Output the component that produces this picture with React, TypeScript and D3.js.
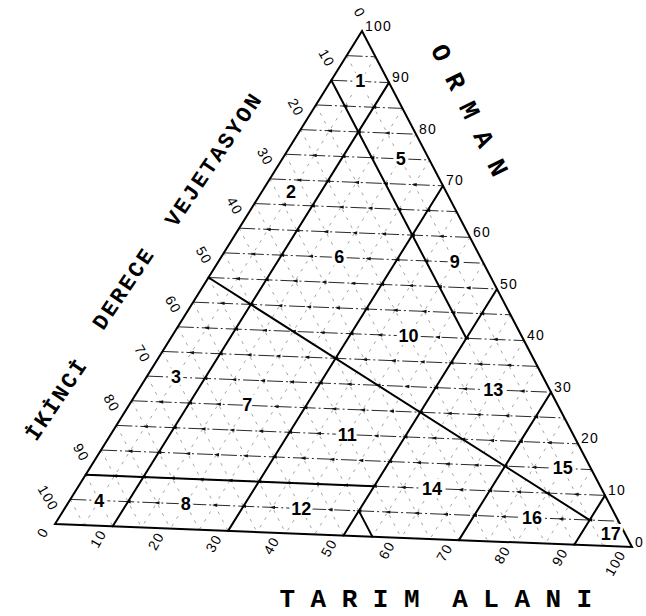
import React from "react";
import * as d3 from "d3";

const WIDTH = 646;
const HEIGHT = 616;

// Percent ticks along each side of the triangle
const sideTicks = d3.range(0, 101, 10);
// Fine grid spacing in percent
const gridValues = d3.range(5, 100, 5);

// Class boundaries as [TARIM, ORMAN] endpoints (VEJETASYON = 100 - TARIM - ORMAN)
const boundaryStart: [number, number][] = [
  [10, 90], [30, 70], [50, 50], [70, 30], [90, 10],
  [0, 90], [0, 10], [0, 50], [50, 5],
];
const boundaryEnd: [number, number][] = [
  [10, 0], [30, 0], [50, 0], [70, 0], [90, 0],
  [50, 40], [50, 10], [90, 5], [55, 0],
];

// Class numbers and where they sit, in percent
const classNames = ["1", "2", "3", "4", "5", "6", "7", "8", "9", "10", "11", "12", "13", "14", "15", "16", "17"];
const classTarim = [5, 5, 5, 5, 20, 20, 20, 20, 40, 40, 40, 40, 60, 60, 80, 80, 95];
const classOrman = [90, 67.5, 30, 5, 75, 55, 25, 5, 55, 40, 20, 5, 30, 10, 15, 5, 2.5];

// Axis titles
const titleOrman = "ORMAN";
const titleTarim = ["TARIM", "ALANI"];
const titleVejetasyon = ["İKİNCİ", "DERECE", "VEJETASYON"];

// Triangle corners on the page: TARIM = 100 (right), VEJETASYON = 100 (left), ORMAN = 100 (top)
const cornerTarim: [number, number] = [632, 547];
const cornerVej: [number, number] = [55, 524];
const cornerOrman: [number, number] = [362, 31];

const frac = d3.scaleLinear().domain([0, 100]).range([0, 1]);

function project(t: number, o: number): [number, number] {
  const v = 100 - t - o;
  const a = frac(t), b = frac(v), c = frac(o);
  return [
    a * cornerTarim[0] + b * cornerVej[0] + c * cornerOrman[0],
    a * cornerTarim[1] + b * cornerVej[1] + c * cornerOrman[1],
  ];
}

const line = d3.line<[number, number]>();
const baseAngle =
  (Math.atan2(cornerTarim[1] - cornerVej[1], cornerTarim[0] - cornerVej[0]) * 180) / Math.PI;

const sansFont = "'Liberation Sans', Arial, Helvetica, sans-serif";
const monoFont = "'Liberation Mono', 'Courier New', monospace";

export default function App() {
  // fine grid: constant ORMAN (horizontal), constant VEJETASYON, constant TARIM
  const horiz = gridValues.map((o) => line([project(0, o), project(100 - o, o)])!);
  const vejLines = gridValues.map((v) => line([project(0, 100 - v), project(100 - v, 0)])!);
  const tarLines = gridValues.map((t) => line([project(t, 100 - t), project(t, 0)])!);

  const arrows: [number, number][] = [];
  gridValues.forEach((o) => {
    d3.range(5, 100 - o, 5).forEach((t) => arrows.push(project(t, o)));
  });

  const border = line([cornerVej, cornerTarim, cornerOrman])! + "Z";
  const vejCenters: [number, number][] = [[58, 400], [125, 289], [215, 160]];

  return (
    <svg width={WIDTH} height={HEIGHT} style={{ display: "block", position: "absolute", left: 0, top: 0 }}>
      <rect width={WIDTH} height={HEIGHT} fill="#fff" />
      <g fill="none" stroke="#666" strokeWidth={0.6} strokeDasharray="3 6">
        {vejLines.map((d, i) => <path key={"v" + i} d={d} />)}
        {tarLines.map((d, i) => <path key={"t" + i} d={d} />)}
      </g>
      <g fill="none" stroke="#111" strokeWidth={0.9} strokeDasharray="16 3 2 3">
        {horiz.map((d, i) => <path key={"h" + i} d={d} />)}
      </g>
      <g fill="#111">
        {arrows.map(([x, y], i) => (
          <path
            key={"a" + i}
            d="M-2.6,0L2.6,-1.7L2.6,1.7Z"
            transform={`translate(${x},${y}) rotate(${baseAngle})`}
          />
        ))}
      </g>
      <g fill="none" stroke="#000" strokeWidth={2} strokeLinecap="round">
        {boundaryStart.map(([t0, o0], i) => {
          const [t1, o1] = boundaryEnd[i];
          return <path key={"b" + i} d={line([project(t0, o0), project(t1, o1)])!} />;
        })}
        <path d={border} strokeLinejoin="miter" />
      </g>

      <g fontFamily={sansFont} fontSize={14} letterSpacing={1.2} fill="#000">
        {/* ORMAN ticks on the right side */}
        {sideTicks.map((o) => {
          const [x, y] = project(100 - o, o);
          return (
            <text key={"ro" + o} x={x + 3} y={y - 0.5}>
              {o}
            </text>
          );
        })}
        {/* VEJETASYON ticks on the left side */}
        {sideTicks.map((v) => {
          const [x, y] = project(0, 100 - v);
          const tx = x, ty = y - 14.5;
          return (
            <text
              key={"lv" + v}
              x={tx}
              y={ty}
              textAnchor="end"
              dominantBaseline="central"
              transform={`rotate(60 ${tx} ${ty})`}
            >
              {v}
            </text>
          );
        })}
        {/* TARIM ticks along the base */}
        {sideTicks.map((t) => {
          const [x, y] = project(t, 0);
          const tx = x - 10, ty = y + 4.5;
          return (
            <text
              key={"bt" + t}
              x={tx}
              y={ty}
              textAnchor="end"
              dominantBaseline="central"
              transform={`rotate(-60 ${tx} ${ty})`}
            >
              {t}
            </text>
          );
        })}
      </g>

      {/* class numbers */}
      <g
        fontFamily={sansFont}
        fontSize={18}
        fontWeight="bold"
        textAnchor="middle"
        dominantBaseline="central"
        fill="#000"
        stroke="#fff"
        strokeWidth={6}
        paintOrder="stroke"
      >
        {classNames.map((name, i) => {
          const [x, y] = project(classTarim[i], classOrman[i]);
          return (
            <text key={"c" + name} x={x} y={y}>
              {name}
            </text>
          );
        })}
      </g>

      {/* axis titles */}
      <g fontFamily={monoFont} fontWeight="bold" fill="#000">
        <text
          x={436.6}
          y={46.3}
          fontSize={26}
          letterSpacing={16.4}
          dominantBaseline="central"
          transform="rotate(63.8 436.6 46.3)"
        >
          {titleOrman}
        </text>
        <text x={279.5} y={607} fontSize={26} letterSpacing={15.5}>
          {titleTarim[0]}
        </text>
        <text x={452.2} y={607} fontSize={26} letterSpacing={15.5}>
          {titleTarim[1]}
        </text>
        {titleVejetasyon.map((word, i) => {
          const [cx, cy] = vejCenters[i];
          return (
            <text
              key={word}
              x={cx}
              y={cy}
              fontSize={22}
              letterSpacing={2.5}
              textAnchor="middle"
              dominantBaseline="central"
              transform={`rotate(-56 ${cx} ${cy})`}
            >
              {word}
            </text>
          );
        })}
      </g>
    </svg>
  );
}
